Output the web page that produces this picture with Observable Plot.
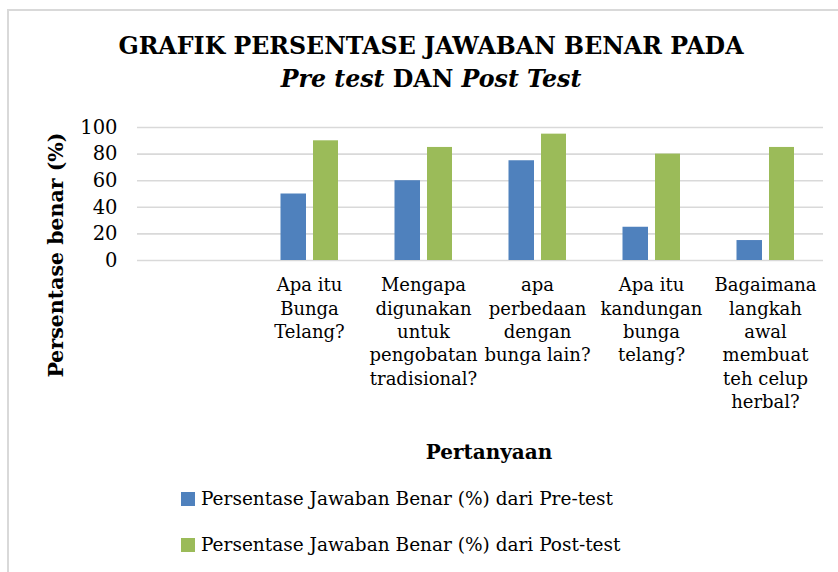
<!DOCTYPE html>
<html>
<head>
<meta charset="utf-8">
<script src="https://cdn.jsdelivr.net/npm/d3@7"></script>
<script src="https://cdn.jsdelivr.net/npm/@observablehq/plot@0.6"></script>
<style>
  html, body { margin: 0; padding: 0; background: #fff; }
  #wrap { position: relative; width: 838px; height: 572px; overflow: hidden; background: #fff; font-family: "DejaVu Serif", serif; color: #000; }
  #frame { position: absolute; left: 7px; top: 9px; width: 900px; height: 700px; border: 2px solid #d9d9d9; box-sizing: border-box; }
  .title { position: absolute; left: 0; width: 862px; text-align: center; font-weight: bold; font-size: 23.7px; line-height: 1; white-space: nowrap; }
  #chart { position: absolute; left: 0; top: 110px; }
  #ylab { position: absolute; left: 56px; top: 255px; transform: translate(-50%, -50%) rotate(-90deg); font-weight: bold; font-size: 20.5px; white-space: nowrap; line-height: 1; }
  #xlab { position: absolute; left: 489px; top: 452px; transform: translate(-50%, -50%); font-weight: bold; font-size: 20px; white-space: nowrap; line-height: 1; }
  .leg { position: absolute; left: 181px; font-size: 18.5px; white-space: nowrap; line-height: 1; display: flex; align-items: center; }
  .leg span.sw { display: inline-block; width: 14px; height: 14px; margin-right: 6px; }
</style>
</head>
<body>
<div id="wrap">
  <div id="frame"></div>
  <div class="title" style="top:35px;">GRAFIK PERSENTASE JAWABAN BENAR PADA</div>
  <div class="title" style="top:68px;"><i>Pre test</i> DAN <i>Post Test</i></div>
  <div id="chart"></div>
  <div id="ylab">Persentase benar (%)</div>
  <div id="xlab">Pertanyaan</div>
  <div class="leg" style="top:490px;"><span class="sw" style="background:#4F81BD"></span><span id="leg1"></span></div>
  <div class="leg" style="top:536px;"><span class="sw" style="background:#9BBB59"></span><span id="leg2"></span></div>
</div>
<script>
// ---- data ----
const categories = [
  "",
  "Apa itu Bunga Telang?",
  "Mengapa digunakan untuk pengobatan tradisional?",
  "apa perbedaan dengan bunga lain?",
  "Apa itu kandungan bunga telang?",
  "Bagaimana langkah awal membuat teh celup herbal?"
];
const tickLabels = [
  "",
  "Apa itu\nBunga\nTelang?",
  "Mengapa\ndigunakan\nuntuk\npengobatan\ntradisional?",
  "apa\nperbedaan\ndengan\nbunga lain?",
  "Apa itu\nkandungan\nbunga\ntelang?",
  "Bagaimana\nlangkah\nawal\nmembuat\nteh celup\nherbal?"
];
const preTest = [null, 50, 60, 75, 25, 15];
const postTest = [null, 90, 85, 95, 80, 85];
const seriesNames = [
  "Persentase Jawaban Benar (%) dari Pre-test",
  "Persentase Jawaban Benar (%) dari Post-test"
];
const yTicks = [0, 20, 40, 60, 80, 100];
const colors = ["#4F81BD", "#9BBB59"];

// ---- tables ----
const preRows = categories.map((c, i) => ({category: c, value: preTest[i]})).filter(d => d.value != null);
const postRows = categories.map((c, i) => ({category: c, value: postTest[i]})).filter(d => d.value != null);
const labelOf = new Map(categories.map((c, i) => [c, tickLabels[i]]));

document.getElementById("leg1").textContent = seriesNames[0];
document.getElementById("leg2").textContent = seriesNames[1];

const chart = Plot.plot({
  width: 838,
  height: 310,
  marginLeft: 137,
  marginRight: 15,
  marginTop: 17,
  marginBottom: 160,
  style: {fontFamily: "DejaVu Serif", fontSize: "17px", color: "#000", background: "transparent"},
  x: {domain: categories, padding: 0},
  y: {domain: [0, 100]},
  marks: [
    Plot.gridY(yTicks, {stroke: "#d9d9d9", strokeOpacity: 1, strokeWidth: 1.6}),
    Plot.barY(preRows, {x: "category", y: "value", fill: colors[0], insetLeft: 28.5, insetRight: 60}),
    Plot.barY(postRows, {x: "category", y: "value", fill: colors[1], insetLeft: 61, insetRight: 28}),
    Plot.axisY(yTicks, {tickSize: 0, tickPadding: 20, fontSize: 19.5, label: null, tickFormat: d => String(d)}),
    Plot.axisX({tickSize: 0, tickPadding: 14, fontSize: 18, lineHeight: 1.3, label: null, tickFormat: d => labelOf.get(d)})
  ]
});
document.getElementById("chart").appendChild(chart);
</script>
</body>
</html>
